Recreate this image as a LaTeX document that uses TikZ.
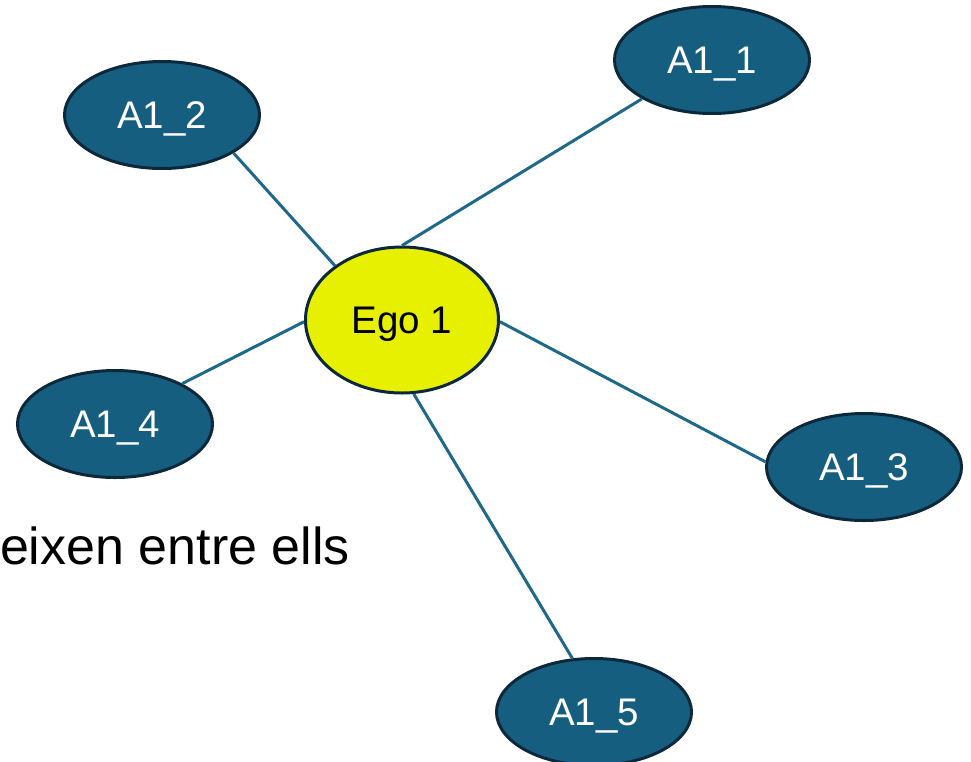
\documentclass[tikz,border=0pt]{standalone}
\usepackage{fontspec}
\setmainfont{Liberation Sans}
\usetikzlibrary{shapes.geometric}

\definecolor{alterblue}{RGB}{22,94,128}
\definecolor{alterline}{RGB}{12,40,58}
\definecolor{linkblue}{RGB}{30,104,138}
\definecolor{egoyellow}{RGB}{230,240,0}

\tikzset{
  alter/.style={ellipse, draw=alterline, line width=3pt, fill=alterblue,
    text=white, minimum width=195pt, minimum height=107pt, inner sep=0pt,
    font=\fontsize{38.5pt}{42pt}\selectfont, text height=27.5pt, text depth=0pt},
  ego/.style={alter, fill=egoyellow, text=black, minimum width=193pt, minimum height=146pt},
  link/.style={draw=linkblue, line width=3pt}
}

\begin{document}
\begin{tikzpicture}[x=1pt,y=-1pt]
    \useasboundingbox (0,0) rectangle (971,761);

    % Node central
    \node[ego] (ego) at (402,320) {Ego 1};

    % Alters
    \node[alter] (a11) at (712,60)  {A1\_1};
    \node[alter] (a12) at (162,115) {A1\_2};
    \node[alter] (a13) at (864,467) {A1\_3};
    \node[alter] (a14) at (115,424) {A1\_4};
    \node[alter] (a15) at (594,712) {A1\_5};

    % Connexions
    \draw[link] (ego.90)    -- (a11.209.7);
    \draw[link] (ego.141.8) -- (a12.332);
    \draw[link] (ego.359)   -- (a13.177);
    \draw[link] (ego.181)   -- (a14.31.7);
    \draw[link] (ego.279.5) -- (a15.112);

    % Text tallat
    \node[anchor=base east, inner sep=0pt, font=\fontsize{52pt}{57pt}\selectfont] (txt) at (350,564) {eixen entre ells};
\end{tikzpicture}
\end{document}
